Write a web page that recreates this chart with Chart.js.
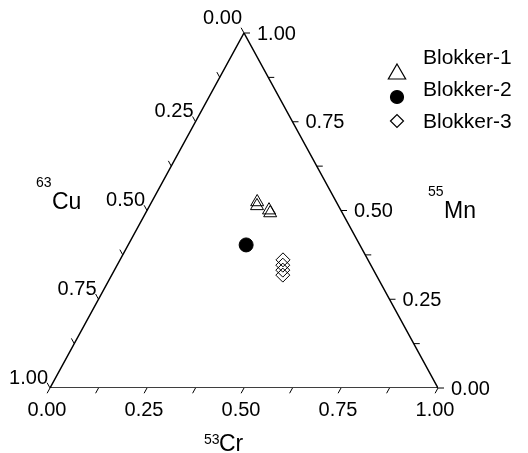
<!DOCTYPE html>
<html>
<head>
<meta charset="utf-8">
<script src="https://cdn.jsdelivr.net/npm/chart.js@4.4.0/dist/chart.umd.min.js"></script>
<style>
  html, body { margin: 0; padding: 0; background: #fff; }
  #wrap { width: 528px; height: 453px; }
</style>
</head>
<body>
<div id="wrap"><canvas id="ternary" width="528" height="453"></canvas></div>
<script>
// ternary composition (fractions), Cu = 1 - Cr - Mn
const seriesNames = ['Blokker-1', 'Blokker-2', 'Blokker-3'];
const blokker1Cr = [0.272, 0.277, 0.314, 0.321];
const blokker1Mn = [0.524, 0.513, 0.501, 0.493];
const blokker2Cr = [0.304];
const blokker2Mn = [0.403];
const blokker3Cr = [0.420, 0.427, 0.434, 0.441];
const blokker3Mn = [0.361, 0.346, 0.332, 0.318];

// triangle frame corners: Cu, Cr, Mn vertices
const frameCr = [0, 1, 0, 0];
const frameMn = [0, 0, 1, 0];

const tickValues = [0, 0.125, 0.25, 0.375, 0.5, 0.625, 0.75, 0.875, 1];
const majorValues = [0, 0.25, 0.5, 0.75, 1];
const majorLabels = ['0.00', '0.25', '0.50', '0.75', '1.00'];

const FONT = '"Liberation Sans", Arial, Helvetica, sans-serif';

// ternary -> cartesian (unit triangle, y scaled to 1 at apex)
function toXY(cr, mn) {
    return cr.map((c, i) => ({x: c + mn[i] / 2, y: mn[i]}));
}

const ternaryPlugin = {
    id: 'ternaryAxes',
    afterDatasetsDraw(chart) {
        const ctx = chart.ctx;
        const xs = chart.scales.x, ys = chart.scales.y;
        const px = (cr, mn) => [xs.getPixelForValue(cr + mn / 2), ys.getPixelForValue(mn)];

        const bl = px(0, 0), br = px(1, 0), top = px(0, 1);
        const unit = (a, b) => {
            const dx = b[0] - a[0], dy = b[1] - a[1];
            const l = Math.hypot(dx, dy);
            return [dx / l, dy / l];
        };
        const dirBottom = unit(top, bl);   // down-left
        const dirLeft = unit(br, top);     // up-left
        const dirRight = [1, 0];
        const len = 6;

        ctx.save();
        ctx.strokeStyle = '#000';
        ctx.lineWidth = 1;
        ctx.beginPath();
        tickValues.forEach(v => {
            let p = px(v, 0);
            ctx.moveTo(p[0], p[1]);
            ctx.lineTo(p[0] + dirBottom[0] * len, p[1] + dirBottom[1] * len);
            p = px(1 - v, v);
            ctx.moveTo(p[0], p[1]);
            ctx.lineTo(p[0] + dirRight[0] * len, p[1] + dirRight[1] * len);
            p = px(0, 1 - v);
            ctx.moveTo(p[0], p[1]);
            ctx.lineTo(p[0] + dirLeft[0] * len, p[1] + dirLeft[1] * len);
        });
        ctx.stroke();

        ctx.fillStyle = '#000';
        ctx.font = '20px ' + FONT;
        majorValues.forEach((v, i) => {
            // bottom: 53Cr
            let p = px(v, 0);
            ctx.textAlign = 'center';
            ctx.textBaseline = 'middle';
            ctx.fillText(majorLabels[i], p[0] - 3, p[1] + 22);
            // right: 55Mn
            p = px(1 - v, v);
            ctx.textAlign = 'left';
            ctx.fillText(majorLabels[i], p[0] + 13, p[1] + 1);
            // left: 63Cu
            p = px(0, 1 - v);
            ctx.textAlign = 'right';
            ctx.fillText(majorLabels[i], p[0] - 2, p[1] - (v === 0 ? 15 : 10));
        });

        // axis titles with isotope superscripts
        const title = (sup, sym, x, y) => {
            ctx.textAlign = 'left';
            ctx.textBaseline = 'middle';
            ctx.font = '14px ' + FONT;
            ctx.fillText(sup, x, y - 20);
            ctx.font = '23px ' + FONT;
            ctx.fillText(sym, x + 16, y);
        };
        title('63', 'Cu', 36, 203);
        title('55', 'Mn', 428, 212);
        ctx.font = '14px ' + FONT;
        ctx.fillText('53', 204, 440);
        ctx.font = '23px ' + FONT;
        ctx.fillText('Cr', 219, 445);

        // legend
        const rows = [
            {mark: [397, 74], text: 58, style: 'triangle', r: 10, fill: false},
            {mark: [397, 97], text: 90, style: 'circle', r: 6.5, fill: true},
            {mark: [397, 121], text: 122, style: 'rectRot', r: 6.5, fill: false}
        ];
        rows.forEach((row, i) => {
            ctx.lineWidth = 1.2;
            ctx.strokeStyle = '#000';
            ctx.fillStyle = row.fill ? '#000' : '#fff';
            Chart.helpers.drawPoint(ctx, {
                pointStyle: row.style, radius: row.r, rotation: 0, borderWidth: 1.2
            }, row.mark[0], row.mark[1]);
            ctx.fillStyle = '#000';
            ctx.font = '21px ' + FONT;
            ctx.textAlign = 'left';
            ctx.textBaseline = 'middle';
            ctx.fillText(seriesNames[i], 423, row.text);
        });
        ctx.restore();
    }
};

const chart = new Chart(document.getElementById('ternary'), {
    type: 'scatter',
    data: {
        datasets: [
            {
                label: 'frame', data: toXY(frameCr, frameMn), showLine: true,
                borderColor: '#000', borderWidth: 1.5, pointRadius: 0, fill: false, order: 5
            },
            {
                label: seriesNames[0], data: toXY(blokker1Cr, blokker1Mn),
                pointStyle: 'triangle', pointRadius: 7.5, borderColor: '#000',
                backgroundColor: 'rgba(0,0,0,0)', borderWidth: 1
            },
            {
                label: seriesNames[1], data: toXY(blokker2Cr, blokker2Mn),
                pointStyle: 'circle', pointRadius: 7, borderColor: '#000',
                backgroundColor: '#000', borderWidth: 1
            },
            {
                label: seriesNames[2], data: toXY(blokker3Cr, blokker3Mn),
                pointStyle: 'rectRot', pointRadius: 7, borderColor: '#000',
                backgroundColor: 'rgba(0,0,0,0)', borderWidth: 1
            }
        ]
    },
    options: {
        responsive: false,
        animation: false,
        events: [],
        layout: {padding: {left: 50, right: 90, top: 33, bottom: 65}},
        scales: {
            x: {type: 'linear', min: 0, max: 1, display: false},
            y: {type: 'linear', min: 0, max: 1, display: false}
        },
        plugins: {legend: {display: false}, tooltip: {enabled: false}},
        elements: {point: {hoverRadius: 0}}
    },
    plugins: [ternaryPlugin]
});
</script>
</body>
</html>
